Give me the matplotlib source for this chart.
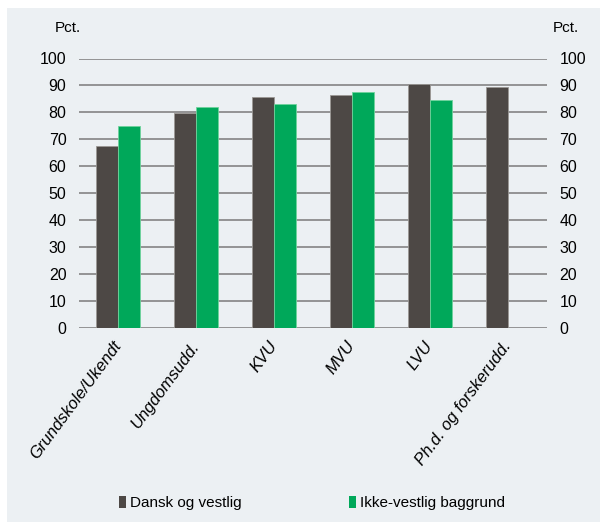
import numpy as np
import matplotlib.pyplot as plt
from matplotlib.patches import Rectangle, Patch

plt.rcParams['font.family'] = ['Liberation Sans Narrow', 'Liberation Sans', 'DejaVu Sans']

categories = ['Grundskole/Ukendt', 'Ungdomsudd.', 'KVU', 'MVU', 'LVU', 'Ph.d. og forskerudd.']
dansk = [67.3, 79.7, 85.8, 86.3, 90.5, 89.3]
ikke_vestlig = [74.8, 81.8, 83.1, 87.5, 84.4, np.nan]
series_names = ['Dansk og vestlig', 'Ikke-vestlig baggrund']
yticks = list(range(0, 101, 10))

dark = '#4d4845'
green = '#00a85a'
bg = '#ecf0f3'
fs = 11

fig = plt.figure(figsize=(6.0, 5.22), dpi=100, facecolor='white')
fig.patches.append(Rectangle((7 / 600, 0), 1, 1 - 8 / 522, transform=fig.transFigure,
                             facecolor=bg, edgecolor='none', zorder=-10))

ax = fig.add_axes([79 / 600, 194.5 / 522, 468 / 600, 269 / 522])
ax.set_facecolor('none')

x = np.arange(len(categories))
w = 0.285
ax.bar(x - w / 2, dansk, w, color=dark, edgecolor='#9b9895', linewidth=0.6, zorder=3)
ax.bar(x + w / 2, ikke_vestlig, w, color=green, edgecolor='#6fd39c', linewidth=0.6, zorder=3)

ax.set_xlim(-0.5, len(categories) - 0.5)
ax.set_ylim(0, 100)
ax.set_yticks(yticks)
ax.yaxis.grid(True, color='#8c8c8c', linewidth=1.3, zorder=1)
ax.set_axisbelow(True)
for s in ax.spines.values():
    s.set_visible(False)
ax.tick_params(axis='y', length=0, pad=9, labelsize=fs + 0.5, labelright=True)
ax.tick_params(axis='x', length=0, pad=11)
ax.set_xticks(x)
ax.set_xticklabels(categories, rotation=53.5, rotation_mode='anchor', ha='right', va='center',
                   fontsize=12, style='italic')

fig.text(68 / 600, 1 - 28 / 522, 'Pct.', ha='center', va='center', fontsize=fs)
fig.text(566 / 600, 1 - 28 / 522, 'Pct.', ha='center', va='center', fontsize=fs)

handles = [Patch(facecolor=dark, edgecolor='none'), Patch(facecolor=green, edgecolor='none')]
fig.legend(handles, series_names, loc='center', bbox_to_anchor=(312 / 600, 1 - 503 / 522),
           ncol=2, frameon=False, fontsize=fs, handlelength=0.45, handleheight=0.8,
           handletextpad=0.3, columnspacing=7.0)

fig.savefig('out.png', dpi=100, facecolor='white')
